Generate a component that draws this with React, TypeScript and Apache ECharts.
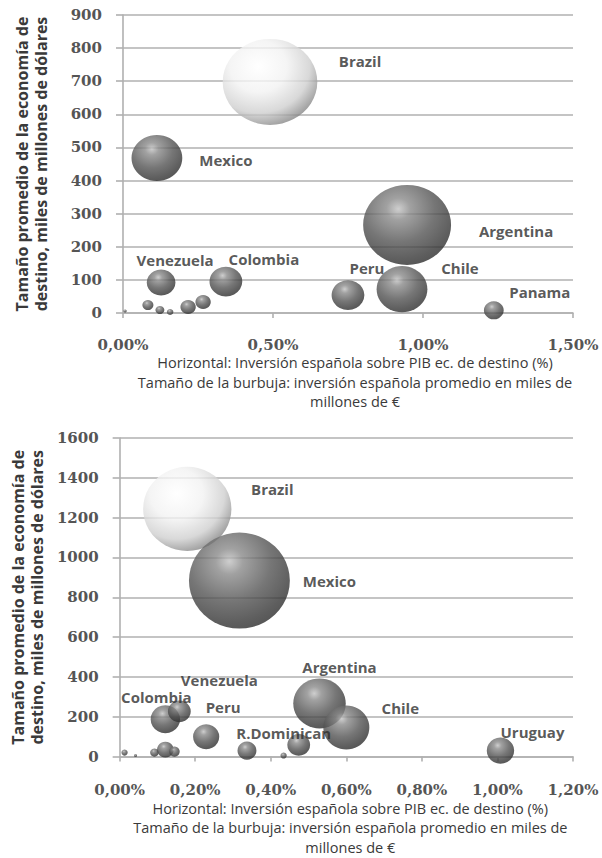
import { useEffect, useRef } from "react";
import * as echarts from "echarts";

// ---- Upper panel: first period ----
const topNames = ["", "", "", "", "", "", "Brazil", "Argentina", "Mexico", "Chile", "Peru", "Colombia", "Venezuela", "Panama"];
// Spanish investment over destination GDP (%)
const topInvPct = [0.007, 0.083, 0.123, 0.157, 0.217, 0.267, 0.49, 0.947, 0.113, 0.93, 0.75, 0.343, 0.127, 1.236];
// Average size of destination economy (thousand million USD)
const topGdp = [6, 24, 9, 3, 18, 33, 698, 266, 468, 72, 54, 95, 92, 8];
// Average Spanish investment (thousand million EUR) -> bubble size
const topInvest = [0.03, 0.34, 0.22, 0.12, 0.66, 0.66, 25, 21.6, 7.2, 7.2, 3.0, 3.0, 2.3, 1.1];
const topYTicks = { min: 0, max: 900, interval: 100 };
const topXTicks = { min: 0, max: 1.5, interval: 0.5 };

// ---- Lower panel: second period ----
const botNames = ["", "", "", "", "", "", "", "Brazil", "Mexico", "Argentina", "Chile", "Colombia", "Venezuela", "Peru", "R.Dominican", "Uruguay"];
const botInvPct = [0.013, 0.042, 0.092, 0.121, 0.145, 0.337, 0.434, 0.179, 0.317, 0.529, 0.6, 0.121, 0.158, 0.229, 0.474, 1.008];
const botGdp = [20, 5, 20, 35, 25, 30, 5, 1244, 884, 267, 146, 188, 227, 100, 59, 30];
const botInvest = [0.12, 0.03, 0.22, 0.86, 0.34, 1.1, 0.12, 23.9, 31.2, 8.45, 6.5, 2.65, 1.6, 2.1, 1.6, 2.3];
const botYTicks = { min: 0, max: 1600, interval: 200 };
const botXTicks = { min: 0, max: 1.2, interval: 0.2 };

const xCaption =
  "Horizontal: Inversión española sobre PIB ec. de destino (%)\nTamaño de la burbuja: inversión española promedio en miles de\nmillones de €";
const yCaption = "Tamaño promedio de la economía de\ndestino, miles de millones de dólares";

// label placement (pixel offsets from the bubble centre)
const topLabelOffset: Record<string, [number, number]> = {
  Brazil: [90, -21],
  Argentina: [109, 6],
  Mexico: [69, 2],
  Chile: [58, -21],
  Peru: [19, -27],
  Colombia: [38, -23],
  Venezuela: [14, -23],
  Panama: [46, -18],
};
const botLabelOffset: Record<string, [number, number]> = {
  Brazil: [85, -20],
  Mexico: [90, 0],
  Argentina: [20, -36],
  Chile: [54, -20],
  Colombia: [-9, -22],
  Venezuela: [40, -31],
  Peru: [17, -30],
  "R.Dominican": [-15, -12],
  Uruguay: [32, -19],
};

const BUBBLE_K = 8.6;

const darkSphere = {
  type: "radial",
  x: 0.4,
  y: 0.3,
  r: 0.75,
  colorStops: [
    { offset: 0, color: "#c2c2c2" },
    { offset: 0.18, color: "#8a8a8a" },
    { offset: 0.55, color: "#545454" },
    { offset: 0.85, color: "#363636" },
    { offset: 1, color: "#2a2a2a" },
  ],
};
const lightSphere = {
  type: "radial",
  x: 0.38,
  y: 0.32,
  r: 0.75,
  colorStops: [
    { offset: 0, color: "#ffffff" },
    { offset: 0.4, color: "#f2f2f2" },
    { offset: 0.72, color: "#cfcfcf" },
    { offset: 1, color: "#767676" },
  ],
};

const labelFont = { fontFamily: "Open Sans", fontWeight: "bold" as const, fontSize: 15, color: "#2e2e2e" };
const tickFont = { fontFamily: "DejaVu Serif", fontWeight: "bold" as const, fontSize: 15, color: "#555" };
const gridLine = { color: "#b0b0b0", width: 1.6 };

function buildData(
  names: string[],
  xs: number[],
  ys: number[],
  sizes: number[],
  offsets: Record<string, [number, number]>
) {
  return names.map((name, i) => ({
    name,
    value: [xs[i], ys[i], sizes[i]],
    itemStyle: { color: name === "Brazil" ? lightSphere : darkSphere },
    label: name
      ? { show: true, position: "inside", offset: offsets[name], formatter: "{b}", ...labelFont }
      : { show: false },
  }));
}

const pctFmt = (v: number) => v.toFixed(2).replace(".", ",") + "%";

function xAxisFor(gridIndex: number, t: { min: number; max: number; interval: number }, labelMargin: number, nameGap: number, shift: number) {
  return {
    type: "value",
    gridIndex,
    min: t.min,
    max: t.max,
    interval: t.interval,
    splitLine: { show: false },
    axisLine: { show: true, lineStyle: gridLine },
    axisTick: { show: true, length: 5, lineStyle: gridLine },
    axisLabel: { ...tickFont, margin: labelMargin, formatter: pctFmt },
    name: xCaption,
    nameLocation: "middle",
    nameGap,
    nameTextStyle: {
      fontFamily: "Open Sans",
      fontSize: 14.5,
      color: "#3a3a3a",
      lineHeight: 19.5,
      align: "center",
      padding: [0, 0, 0, shift],
    },
  };
}

function yAxisFor(gridIndex: number, t: { min: number; max: number; interval: number }, nameGap: number) {
  return {
    type: "value",
    gridIndex,
    min: t.min,
    max: t.max,
    interval: t.interval,
    splitLine: { show: true, lineStyle: gridLine },
    axisLine: { show: true, lineStyle: gridLine },
    axisTick: { show: true, length: 7, lineStyle: gridLine },
    axisLabel: { ...tickFont, margin: 21, formatter: (v: number) => String(v) },
    name: yCaption,
    nameLocation: "middle",
    nameGap,
    nameRotate: 90,
    nameTextStyle: {
      fontFamily: "Open Sans",
      fontWeight: "bold",
      fontSize: 16,
      color: "#3a3a3a",
      lineHeight: 19,
      align: "center",
    },
  };
}

export default function App() {
  const ref = useRef<HTMLDivElement>(null);

  useEffect(() => {
    if (!ref.current) return;
    const chart = echarts.init(ref.current, undefined, { renderer: "svg" });
    chart.setOption({
      animation: false,
      backgroundColor: "#ffffff",
      grid: [
        { left: 123, top: 15, width: 450, height: 298 },
        { left: 117, top: 438, width: 456, height: 324 },
      ],
      xAxis: [xAxisFor(0, topXTicks, 24, 32, 14), xAxisFor(1, botXTicks, 26, 39, 8)],
      yAxis: [yAxisFor(0, topYTicks, 73), yAxisFor(1, botYTicks, 67)],
      series: [
        {
          type: "scatter",
          xAxisIndex: 0,
          yAxisIndex: 0,
          symbol: "circle",
          symbolSize: (val: number[]) => {
            const r = BUBBLE_K * Math.sqrt(val[2]);
            return [2 * r * 1.1, 2 * r];
          },
          data: buildData(topNames, topInvPct, topGdp, topInvest, topLabelOffset),
        },
        {
          type: "scatter",
          xAxisIndex: 1,
          yAxisIndex: 1,
          symbol: "circle",
          symbolSize: (val: number[]) => {
            const r = BUBBLE_K * Math.sqrt(val[2]);
            return [2 * r * 1.05, 2 * r];
          },
          data: buildData(botNames, botInvPct, botGdp, botInvest, botLabelOffset),
        },
      ],
    });
    return () => chart.dispose();
  }, []);

  return (
    <div
      ref={ref}
      style={{ position: "fixed", left: 0, top: 0, width: 602, height: 858, background: "#fff" }}
    />
  );
}
